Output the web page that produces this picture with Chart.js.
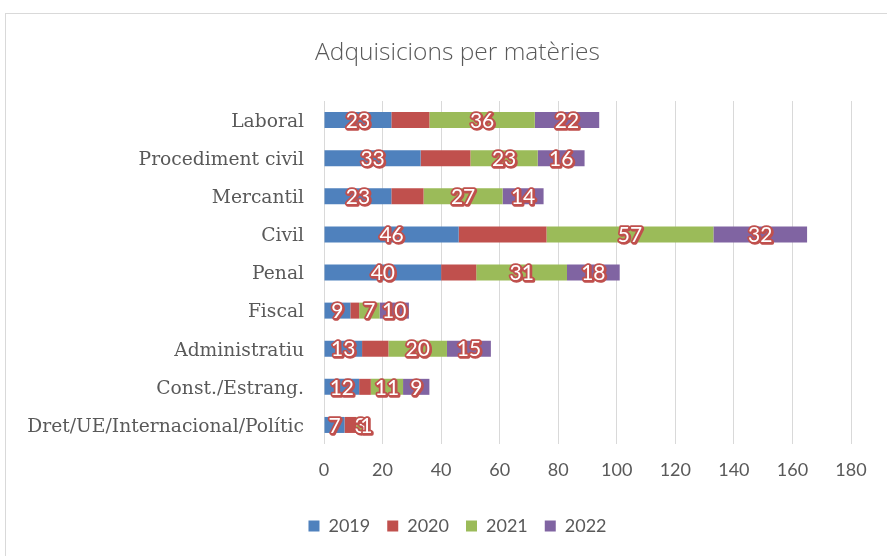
<!DOCTYPE html>
<html>
<head>
<meta charset="utf-8">
<script src="https://cdn.jsdelivr.net/npm/chart.js@4"></script>
<style>
    body { margin: 0; background: #fff; }
    #frame { position: absolute; left: 5px; top: 13px; width: 900px; height: 600px; border: 1px solid #d9d9d9; }
    #wrap { position: absolute; left: 0; top: 0; width: 887px; height: 556px; }
</style>
</head>
<body>
<div id="frame"></div>
<div id="wrap"><canvas id="chart" width="887" height="556"></canvas></div>
<script>
// categories, top to bottom
var categories = ['Laboral', 'Procediment civil', 'Mercantil', 'Civil', 'Penal', 'Fiscal',
    'Administratiu', 'Const./Estrang.', 'Dret/UE/Internacional/Polític']
var years = ['2019', '2020', '2021', '2022']
var v2019 = [23, 33, 23, 46, 40, 9, 13, 12, 7]
var v2020 = [13, 17, 11, 30, 12, 3, 9, 4, 4]
var v2021 = [36, 23, 27, 57, 31, 7, 20, 11, 3]
var v2022 = [22, 16, 14, 32, 18, 10, 15, 9, 1]
var xTicks = [0, 20, 40, 60, 80, 100, 120, 140, 160, 180]
var colors = ['#4f81bd', '#c0504d', '#9bbb59', '#8064a2']
// 2020 has no visible labels in the original
var showLabel = [true, false, true, true]

var series = [v2019, v2020, v2021, v2022]
var datasets = series.map(function (vals, i) {
    return {
        label: years[i],
        data: vals,
        backgroundColor: colors[i],
        borderWidth: 0,
        barPercentage: 0.42,
        categoryPercentage: 1
    }
})

//数据标签：白字红边
var segLabels = {
    id: 'segLabels',
    afterDatasetsDraw: function (chart) {
        var ctx = chart.ctx
        ctx.save()
        ctx.font = '21px Lato'
        ctx.textAlign = 'center'
        ctx.textBaseline = 'middle'
        ctx.lineJoin = 'round'
        chart.data.datasets.forEach(function (ds, i) {
            if (!showLabel[i]) return
            chart.getDatasetMeta(i).data.forEach(function (bar, j) {
                var p = bar.getCenterPoint()
                var txt = String(ds.data[j])
                ctx.lineWidth = 3.5
                ctx.strokeStyle = '#c0504d'
                ctx.strokeText(txt, p.x + 1, p.y + 2)
                ctx.strokeText(txt, p.x, p.y + 1)
                ctx.fillStyle = '#ffffff'
                ctx.fillText(txt, p.x, p.y + 1)
            })
        })
        ctx.restore()
    }
}

//标题和图例右移，与原图对齐
var shiftBoxes = {
    id: 'shiftBoxes',
    afterLayout: function (chart) {
        [chart.titleBlock, chart.legend].forEach(function (box) {
            if (!box) return
            box.left += 32
            box.right += 32
        })
    }
}

var ctx = document.getElementById('chart').getContext('2d')
var chart = new Chart(ctx, {
    type: 'bar',
    data: { labels: categories, datasets: datasets },
    plugins: [segLabels, shiftBoxes],
    options: {
        indexAxis: 'y',
        responsive: false,
        animation: false,
        layout: { padding: { left: 0, right: 36, top: 24, bottom: 11 } },
        plugins: {
            title: {
                display: true,
                text: 'Adquisicions per matèries',
                color: '#595959',
                font: { family: 'Open Sans', size: 24.5, weight: 300 },
                padding: { top: 14, bottom: 33.6 }
            },
            legend: {
                position: 'bottom',
                labels: {
                    boxWidth: 11,
                    boxHeight: 11,
                    color: '#595959',
                    font: { family: 'Lato', size: 18 },
                    padding: 17
                }
            },
            tooltip: { enabled: false }
        },
        scales: {
            x: {
                stacked: true,
                min: 0,
                max: 180,
                afterBuildTicks: function (scale) {
                    scale.ticks = xTicks.map(function (v) { return { value: v } })
                },
                grid: { color: '#d9d9d9', lineWidth: 1, drawTicks: false },
                border: { display: false },
                ticks: {
                    color: '#595959',
                    font: { family: 'Lato', size: 18 },
                    padding: 15
                },
                afterFit: function (scale) { scale.height = 56 }
            },
            y: {
                stacked: true,
                grid: { display: false, drawTicks: false },
                border: { display: false },
                ticks: {
                    color: '#595959',
                    font: { family: 'DejaVu Serif', size: 18.7 },
                    padding: 20,
                    labelOffset: 2
                },
                afterFit: function (scale) { scale.width = 324 }
            }
        }
    }
})
</script>
</body>
</html>
